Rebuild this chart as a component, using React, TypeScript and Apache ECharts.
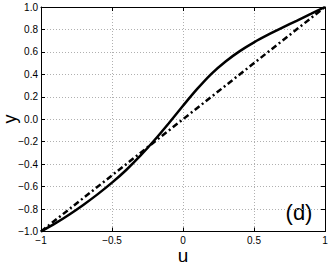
import React, { useEffect, useRef } from "react";
import * as echarts from "echarts";

const uValues = [-1, -0.9, -0.8, -0.7, -0.6, -0.5, -0.4, -0.3, -0.2, -0.1, 0, 0.1, 0.2, 0.3, 0.4, 0.5, 0.6, 0.7, 0.8, 0.9, 1];
const solidY = [-1, -0.928, -0.848, -0.761, -0.667, -0.565, -0.452, -0.325, -0.185, -0.035, 0.12, 0.27, 0.405, 0.515, 0.607, 0.685, 0.753, 0.816, 0.877, 0.938, 1];
const diagU = [-1, 1];
const diagY = [-1, 1];
const xTicks = [-1, -0.5, 0, 0.5, 1];
const yTicks = [-1, -0.8, -0.6, -0.4, -0.2, 0, 0.2, 0.4, 0.6, 0.8, 1];

const FONT = "'Liberation Sans', Arial, Helvetica, sans-serif";
const minus = (s: string) => s.replace("-", "\u2212");
const fmtX = (v: number) => minus(String(Math.round(v * 10) / 10));
const fmtY = (v: number) => minus((Math.round(v * 10) / 10).toFixed(1));

export default function App() {
  const ref = useRef<HTMLDivElement>(null);
  useEffect(() => {
    if (!ref.current) return;
    const chart = echarts.init(ref.current, undefined, { renderer: "svg" });
    const axisLine = { show: true, onZero: false, lineStyle: { color: "#000", width: 1 } };
    const axisTick = { show: true, inside: true, length: 4, lineStyle: { color: "#000", width: 1 } };
    const splitLine = { show: true, lineStyle: { color: "#b0b0b0", width: 1, type: [1, 2] as any } };
    const xBase = { type: "value" as const, min: xTicks[0], max: xTicks[xTicks.length - 1], interval: 0.5 };
    const yBase = { type: "value" as const, min: yTicks[0], max: yTicks[yTicks.length - 1], interval: 0.2 };
    chart.setOption({
      animation: false,
      backgroundColor: "#fff",
      grid: { left: 41, right: 7, top: 7, bottom: 32.5, containLabel: false },
      xAxis: [
        {
          ...xBase,
          position: "bottom",
          axisLine,
          axisTick,
          splitLine,
          axisLabel: { show: true, margin: 4, fontSize: 10, color: "#000", fontFamily: FONT, formatter: fmtX },
        },
        {
          ...xBase,
          position: "top",
          axisLine,
          axisTick,
          splitLine: { show: false },
          axisLabel: { show: false },
        },
      ],
      yAxis: [
        {
          ...yBase,
          position: "left",
          axisLine,
          axisTick,
          splitLine,
          axisLabel: { show: true, margin: 3, fontSize: 10, color: "#000", fontFamily: FONT, formatter: fmtY },
        },
        {
          ...yBase,
          position: "right",
          axisLine,
          axisTick,
          splitLine: { show: false },
          axisLabel: { show: false },
        },
      ],
      series: [
        {
          type: "line",
          data: uValues.map((u, i) => [u, solidY[i]]),
          smooth: 0.3,
          showSymbol: false,
          lineStyle: { color: "#000", width: 2.5, type: "solid" },
          clip: false,
        },
        {
          type: "line",
          data: diagU.map((u, i) => [u, diagY[i]]),
          showSymbol: false,
          lineStyle: { color: "#000", width: 2.5, type: [6, 3, 2, 3] as any },
          clip: false,
        },
      ],
      graphic: [
        {
          type: "text",
          x: 183,
          y: 255,
          style: { text: "u", fontSize: 19, fontFamily: FONT, fill: "#000", align: "center", verticalAlign: "middle" },
        },
        {
          type: "text",
          x: 10,
          y: 119,
          rotation: Math.PI / 2,
          style: { text: "y", fontSize: 18, fontFamily: FONT, fill: "#000", align: "center", verticalAlign: "middle" },
        },
        {
          type: "text",
          x: 299,
          y: 212,
          style: { text: "(d)", fontSize: 22, fontFamily: FONT, fill: "#000", align: "center", verticalAlign: "middle" },
        },
      ],
    });
    return () => chart.dispose();
  }, []);
  return <div ref={ref} style={{ position: "fixed", left: 0, top: 0, width: 332, height: 264 }} />;
}
